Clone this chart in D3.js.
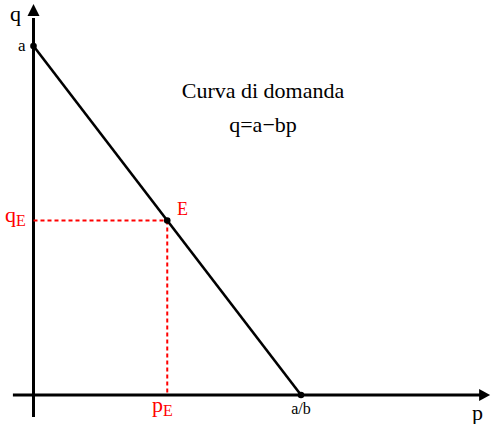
<!DOCTYPE html>
<html>
<head>
<meta charset="utf-8">
<script src="https://cdn.jsdelivr.net/npm/d3@7"></script>
<style>
  html, body { margin: 0; padding: 0; background: #fff; }
</style>
</head>
<body>
<div id="chart"></div>
<script>
// demand curve q = a - b p
const a = 10;
const b = 1;
const pE = 5;
const qE = a - b * pE;
const curvePoints = [[0, a], [pE, qE], [a / b, 0]];
const titleLines = ["Curva di domanda", "q=a\u2212bp"];

const width = 491;
const height = 424;
const serif = "'Liberation Serif', 'Times New Roman', Times, 'DejaVu Serif', serif";

const svg = d3.select("#chart").append("svg")
  .attr("width", width)
  .attr("height", height)
  .style("font-family", serif);

const x = d3.scaleLinear().domain([0, a / b]).range([33.5, 301]);
const y = d3.scaleLinear().domain([0, a]).range([395, 46]);

const axisColor = "#000";
const red = "#ff0000";

// axes
svg.append("line")
  .attr("x1", x(-0.77)).attr("x2", x(16.8))
  .attr("y1", y(0)).attr("y2", y(0))
  .attr("stroke", axisColor).attr("stroke-width", 3);
svg.append("line")
  .attr("x1", x(0)).attr("x2", x(0))
  .attr("y1", y(-0.63)).attr("y2", y(10.8))
  .attr("stroke", axisColor).attr("stroke-width", 3);

// arrow heads
const xt = x(17.07), yt = y(0);
svg.append("path")
  .attr("d", `M${xt},${yt} L${xt - 11},${yt - 6} L${xt - 11},${yt + 6} Z`)
  .attr("fill", axisColor);
const xq = x(0), yq = y(11.2);
svg.append("path")
  .attr("d", `M${xq},${yq} L${xq - 6},${yq + 12} L${xq + 6},${yq + 12} Z`)
  .attr("fill", axisColor);

// dashed guides to E
svg.append("line")
  .attr("x1", x(0)).attr("x2", x(pE))
  .attr("y1", y(qE)).attr("y2", y(qE))
  .attr("stroke", red).attr("stroke-width", 2)
  .attr("stroke-dasharray", "4,3");
svg.append("line")
  .attr("x1", x(pE)).attr("x2", x(pE))
  .attr("y1", y(qE)).attr("y2", y(0))
  .attr("stroke", red).attr("stroke-width", 2)
  .attr("stroke-dasharray", "4,3");

// demand line
svg.append("path")
  .datum(curvePoints)
  .attr("d", d3.line().x(d => x(d[0])).y(d => y(d[1])))
  .attr("fill", "none")
  .attr("stroke", axisColor)
  .attr("stroke-width", 2.6);

// points
svg.selectAll("circle.pt")
  .data(curvePoints)
  .enter().append("circle")
  .attr("class", "pt")
  .attr("cx", d => x(d[0]))
  .attr("cy", d => y(d[1]))
  .attr("r", 3.3)
  .attr("fill", axisColor);

// axis labels
svg.append("text").attr("x", 10).attr("y", 21)
  .attr("font-size", 22).text("q");
svg.append("text").attr("x", 472).attr("y", 420)
  .attr("font-size", 22).text("p");
svg.append("text").attr("x", 18).attr("y", 51)
  .attr("font-size", 17).text("a");
svg.append("text").attr("x", x(a / b)).attr("y", 414)
  .attr("text-anchor", "middle")
  .attr("font-size", 16).text("a/b");

// equilibrium labels
const qLab = svg.append("text").attr("x", 5).attr("y", 222)
  .attr("font-size", 22).attr("fill", red);
qLab.append("tspan").text("q");
qLab.append("tspan").attr("font-size", 16).attr("dy", 4).text("E");

const pLab = svg.append("text").attr("x", 152).attr("y", 412)
  .attr("font-size", 22).attr("fill", red);
pLab.append("tspan").text("p");
pLab.append("tspan").attr("font-size", 16).attr("dy", 4).text("E");

svg.append("text").attr("x", 177).attr("y", 215)
  .attr("font-size", 18).attr("fill", red).text("E");

// title
svg.selectAll("text.title")
  .data(titleLines)
  .enter().append("text")
  .attr("class", "title")
  .attr("x", 263)
  .attr("y", (d, i) => 98 + i * 34)
  .attr("text-anchor", "middle")
  .attr("font-size", 22)
  .text(d => d);
</script>
</body>
</html>
